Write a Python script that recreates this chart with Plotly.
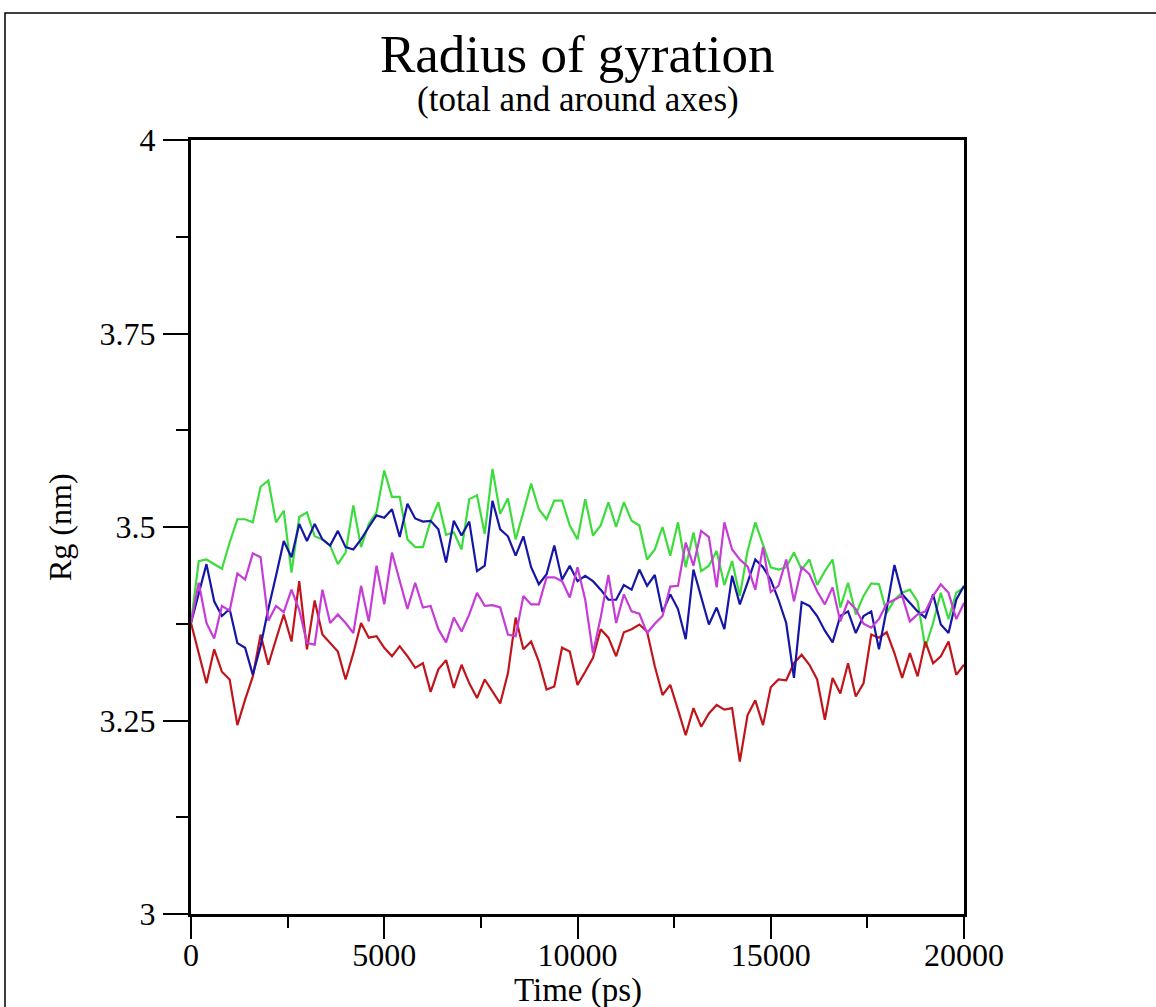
import plotly.graph_objects as go

# ---- data ----
time_ps = [i * 200 for i in range(101)]

rg_red = [3.376, 3.337, 3.298, 3.342, 3.313, 3.303, 3.244, 3.277, 3.307, 3.361,
          3.322, 3.355, 3.387, 3.352, 3.430, 3.342, 3.405, 3.361, 3.350, 3.339,
          3.303, 3.337, 3.376, 3.357, 3.359, 3.344, 3.333, 3.346, 3.333, 3.318,
          3.324, 3.287, 3.316, 3.328, 3.292, 3.322, 3.298, 3.279, 3.303, 3.287,
          3.272, 3.311, 3.383, 3.342, 3.352, 3.326, 3.290, 3.294, 3.344, 3.339,
          3.296, 3.313, 3.331, 3.368, 3.357, 3.333, 3.364, 3.368, 3.374, 3.365,
          3.320, 3.283, 3.296, 3.264, 3.231, 3.266, 3.242, 3.259, 3.270, 3.264,
          3.266, 3.197, 3.257, 3.276, 3.244, 3.293, 3.303, 3.302, 3.324, 3.335,
          3.322, 3.303, 3.251, 3.305, 3.285, 3.324, 3.281, 3.298, 3.361, 3.357,
          3.364, 3.337, 3.305, 3.337, 3.307, 3.352, 3.324, 3.333, 3.352, 3.309,
          3.322]

rg_green = [3.376, 3.456, 3.458, 3.452, 3.446, 3.480, 3.510, 3.510, 3.506, 3.552,
            3.560, 3.506, 3.521, 3.441, 3.513, 3.519, 3.488, 3.484, 3.476, 3.452,
            3.467, 3.528, 3.474, 3.504, 3.519, 3.573, 3.539, 3.539, 3.484, 3.474,
            3.474, 3.508, 3.532, 3.490, 3.493, 3.471, 3.536, 3.541, 3.491, 3.575,
            3.517, 3.537, 3.484, 3.519, 3.556, 3.523, 3.510, 3.534, 3.534, 3.502,
            3.484, 3.536, 3.489, 3.502, 3.532, 3.500, 3.532, 3.508, 3.502, 3.458,
            3.471, 3.500, 3.463, 3.506, 3.448, 3.493, 3.443, 3.450, 3.469, 3.425,
            3.456, 3.411, 3.469, 3.506, 3.476, 3.448, 3.445, 3.448, 3.467, 3.445,
            3.458, 3.425, 3.443, 3.458, 3.396, 3.428, 3.387, 3.411, 3.427, 3.426,
            3.389, 3.406, 3.415, 3.419, 3.404, 3.344, 3.376, 3.415, 3.381, 3.415,
            3.422]

rg_blue = [3.376, 3.415, 3.452, 3.404, 3.385, 3.394, 3.350, 3.344, 3.309, 3.346,
           3.394, 3.437, 3.482, 3.461, 3.504, 3.482, 3.504, 3.484, 3.476, 3.495,
           3.474, 3.471, 3.484, 3.500, 3.515, 3.512, 3.523, 3.487, 3.530, 3.511,
           3.507, 3.508, 3.497, 3.454, 3.508, 3.489, 3.507, 3.443, 3.450, 3.534,
           3.497, 3.488, 3.463, 3.488, 3.448, 3.426, 3.439, 3.476, 3.432, 3.450,
           3.430, 3.437, 3.430, 3.419, 3.406, 3.406, 3.425, 3.419, 3.445, 3.424,
           3.438, 3.390, 3.413, 3.394, 3.355, 3.445, 3.411, 3.374, 3.396, 3.368,
           3.437, 3.400, 3.428, 3.458, 3.448, 3.432, 3.406, 3.376, 3.305, 3.403,
           3.398, 3.385, 3.366, 3.351, 3.385, 3.391, 3.363, 3.385, 3.391, 3.342,
           3.394, 3.451, 3.413, 3.402, 3.391, 3.383, 3.413, 3.374, 3.363, 3.406,
           3.424]

rg_magenta = [3.376, 3.428, 3.376, 3.356, 3.398, 3.392, 3.440, 3.432, 3.466, 3.461,
              3.379, 3.398, 3.390, 3.419, 3.393, 3.350, 3.348, 3.419, 3.376, 3.387,
              3.376, 3.363, 3.424, 3.378, 3.450, 3.400, 3.467, 3.432, 3.394, 3.428,
              3.396, 3.398, 3.368, 3.351, 3.383, 3.365, 3.387, 3.415, 3.398, 3.399,
              3.396, 3.361, 3.359, 3.411, 3.400, 3.400, 3.435, 3.435, 3.430, 3.409,
              3.448, 3.406, 3.337, 3.383, 3.438, 3.376, 3.413, 3.391, 3.388, 3.363,
              3.375, 3.385, 3.423, 3.424, 3.480, 3.450, 3.495, 3.487, 3.422, 3.506,
              3.471, 3.458, 3.449, 3.419, 3.474, 3.416, 3.424, 3.458, 3.404, 3.448,
              3.439, 3.417, 3.400, 3.422, 3.378, 3.404, 3.394, 3.375, 3.370, 3.381,
              3.401, 3.406, 3.411, 3.378, 3.387, 3.391, 3.411, 3.426, 3.415, 3.381,
              3.402]

x_tickvals = [0, 5000, 10000, 15000, 20000]
x_ticktext = ["0", "5000", "10000", "15000", "20000"]
y_tickvals = [3, 3.25, 3.5, 3.75, 4]
y_ticktext = ["3", "3.25", "3.5", "3.75", "4"]

title_text = "Radius of gyration"
subtitle_text = "(total and around axes)"
x_title = "Time (ps)"
y_title = "Rg (nm)"

FONT = "Liberation Serif, Times New Roman, serif"

fig = go.Figure()
series = [
    (rg_green, "#3ddc3d"),
    (rg_red, "#c0161b"),
    (rg_blue, "#1616a6"),
    (rg_magenta, "#c63cd6"),
]
for ys, col in series:
    fig.add_trace(go.Scatter(x=time_ps, y=ys, mode="lines",
                             line=dict(color=col, width=2.2),
                             showlegend=False, hoverinfo="skip"))

axis_common = dict(
    showline=True, linecolor="black", linewidth=3, mirror=True,
    showgrid=False, zeroline=False,
    ticks="outside", tickcolor="black", tickwidth=1.5,
    tickfont=dict(family=FONT, size=32, color="black"),
)

fig.update_xaxes(range=[0, 20000], tickvals=x_tickvals, ticktext=x_ticktext,
                 ticklen=22,
                 minor=dict(dtick=2500, tick0=0, ticklen=11, ticks="outside",
                            tickcolor="black", tickwidth=1.5, showgrid=False),
                 ticklabelstandoff=-11,
                 **axis_common)
fig.update_yaxes(range=[3, 4], tickvals=y_tickvals, ticktext=y_ticktext, ticklen=25,
                 minor=dict(dtick=0.125, tick0=3, ticklen=12, ticks="outside",
                            tickcolor="black", tickwidth=1.5, showgrid=False),
                 ticklabelstandoff=1,
                 **axis_common)

W, H = 1156, 1007
L, R, T, B = 191, 192, 140, 93
pw, ph = W - L - R, H - T - B

def px_x(px):
    return (px - L) / pw

def px_y(py):
    return (H - B - py) / ph

annotations = [
    dict(text=title_text, x=0.5, y=px_y(54), xref="paper", yref="paper",
         showarrow=False, xanchor="center", yanchor="middle",
         font=dict(family=FONT, size=53, color="black")),
    dict(text=subtitle_text, x=0.5, y=px_y(100), xref="paper", yref="paper",
         showarrow=False, xanchor="center", yanchor="middle",
         font=dict(family=FONT, size=35, color="black")),
    dict(text=x_title, x=0.5, y=px_y(990), xref="paper", yref="paper",
         showarrow=False, xanchor="center", yanchor="middle",
         font=dict(family=FONT, size=33, color="black")),
    dict(text=y_title, x=px_x(60), y=0.5, xref="paper", yref="paper",
         showarrow=False, xanchor="center", yanchor="middle", textangle=-90,
         font=dict(family=FONT, size=32, color="black")),
]

shapes = [
    dict(type="rect", xref="paper", yref="paper",
         x0=px_x(5), x1=px_x(1180), y0=px_y(1030), y1=px_y(13),
         line=dict(color="black", width=1.5), fillcolor="rgba(0,0,0,0)",
         layer="below"),
]

fig.update_layout(
    width=W, height=H,
    margin=dict(l=L, r=R, t=T, b=B, autoexpand=False),
    paper_bgcolor="white", plot_bgcolor="white",
    annotations=annotations, shapes=shapes,
    font=dict(family=FONT, color="black"),
)

fig.write_html("out.html",
               config={"displayModeBar": False},
               post_script="document.body.style.margin='0px';"
                           "document.body.style.overflow='hidden';")
